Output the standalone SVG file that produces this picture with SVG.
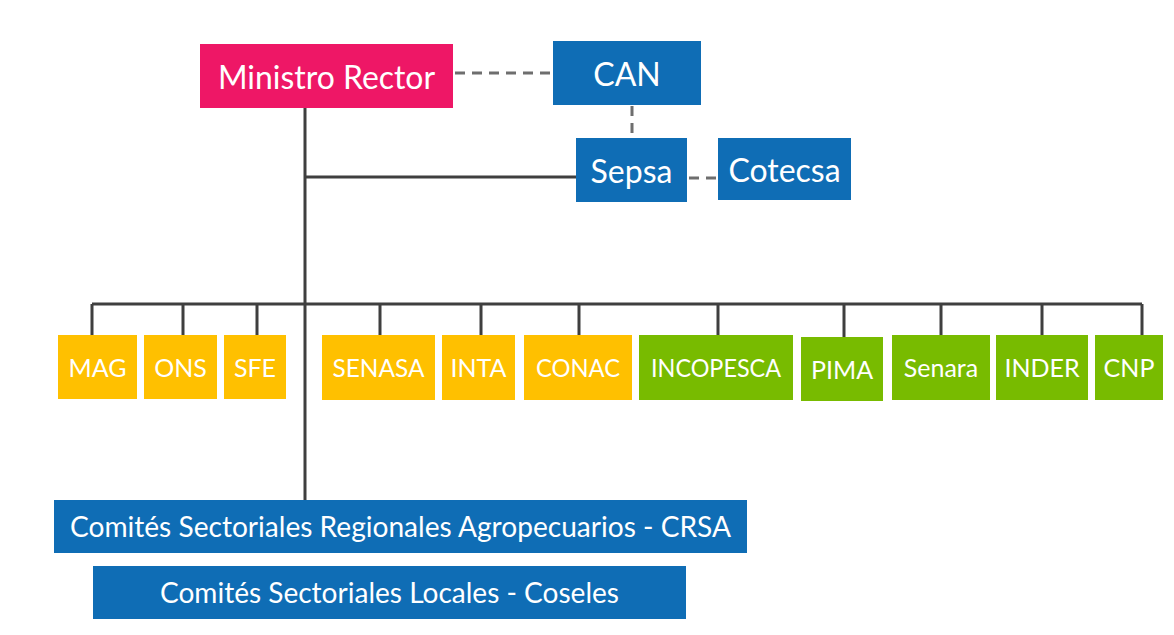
<svg xmlns="http://www.w3.org/2000/svg" width="1174" height="635" viewBox="0 0 1174 635">
<style>
text{font-family:Lato,"Open Sans","Liberation Sans",sans-serif;fill:#fff;text-anchor:middle;dominant-baseline:central}
.big{font-size:32px}
.mid{font-size:25px}
.low{font-size:28px}
.pink{fill:#EE1766}
.blue{fill:#0F6DB5}
.yel{fill:#FFC000}
.grn{fill:#78BB00}
.solid{stroke:#3F3F3F;stroke-width:3;fill:none}
.dash{stroke:#6E6E6E;stroke-width:3;fill:none;stroke-dasharray:10 7}
</style>
<rect width="1174" height="635" fill="#fff"/>
<g id="connectors">
<path class="solid" d="M305 108V500M305 177H576M92 304H1142M92 304V335M183 304V335M257 304V335M380 304V335M481 304V335M579 304V335M718 304V335M844 304V337M941 304V335M1042 304V335M1142 304V335"/>
<path class="dash" d="M455 73H551M632 106V137M689 178H717"/>
</g>
<g id="ministro"><rect class="pink" x="200" y="44" width="253" height="64"/><text class="big" x="326.5" y="76" textLength="217" lengthAdjust="spacingAndGlyphs">Ministro Rector</text></g>
<g id="can"><rect class="blue" x="553" y="41" width="148" height="64"/><text class="big" x="627" y="73">CAN</text></g>
<g id="sepsa"><rect class="blue" x="576" y="138" width="111" height="64"/><text class="big" x="631.5" y="170">Sepsa</text></g>
<g id="cotecsa"><rect class="blue" x="718" y="138" width="133" height="62"/><text class="big" x="784.5" y="169">Cotecsa</text></g>
<g id="mag"><rect class="yel" x="58" y="335" width="79" height="64"/><text class="mid" x="97.5" y="367">MAG</text></g>
<g id="ons"><rect class="yel" x="144" y="335" width="73" height="64"/><text class="mid" x="180.5" y="367">ONS</text></g>
<g id="sfe"><rect class="yel" x="224" y="335" width="62" height="64"/><text class="mid" x="255" y="367">SFE</text></g>
<g id="senasa"><rect class="yel" x="322" y="335" width="113" height="65"/><text class="mid" x="378.5" y="367" textLength="92" lengthAdjust="spacingAndGlyphs">SENASA</text></g>
<g id="inta"><rect class="yel" x="442" y="335" width="73" height="65"/><text class="mid" x="478.5" y="367">INTA</text></g>
<g id="conac"><rect class="yel" x="524" y="335" width="108" height="65"/><text class="mid" x="578" y="367" textLength="84" lengthAdjust="spacingAndGlyphs">CONAC</text></g>
<g id="incopesca"><rect class="grn" x="639" y="335" width="154" height="65"/><text class="mid" x="716" y="367" textLength="130" lengthAdjust="spacingAndGlyphs">INCOPESCA</text></g>
<g id="pima"><rect class="grn" x="801" y="337" width="82" height="64"/><text class="mid" x="842" y="369">PIMA</text></g>
<g id="senara"><rect class="grn" x="892" y="335" width="98" height="65"/><text class="mid" x="941" y="367">Senara</text></g>
<g id="inder"><rect class="grn" x="996" y="335" width="92" height="65"/><text class="mid" x="1042" y="367">INDER</text></g>
<g id="cnp"><rect class="grn" x="1095" y="335" width="68" height="65"/><text class="mid" x="1129" y="367">CNP</text></g>
<g id="crsa"><rect class="blue" x="54" y="500" width="693" height="53"/><text class="low" x="400.5" y="526" textLength="661" lengthAdjust="spacingAndGlyphs">Comités Sectoriales Regionales Agropecuarios - CRSA</text></g>
<g id="coseles"><rect class="blue" x="93" y="566" width="593" height="53"/><text class="low" x="389.5" y="592" textLength="459" lengthAdjust="spacingAndGlyphs">Comités Sectoriales Locales - Coseles</text></g>
</svg>
